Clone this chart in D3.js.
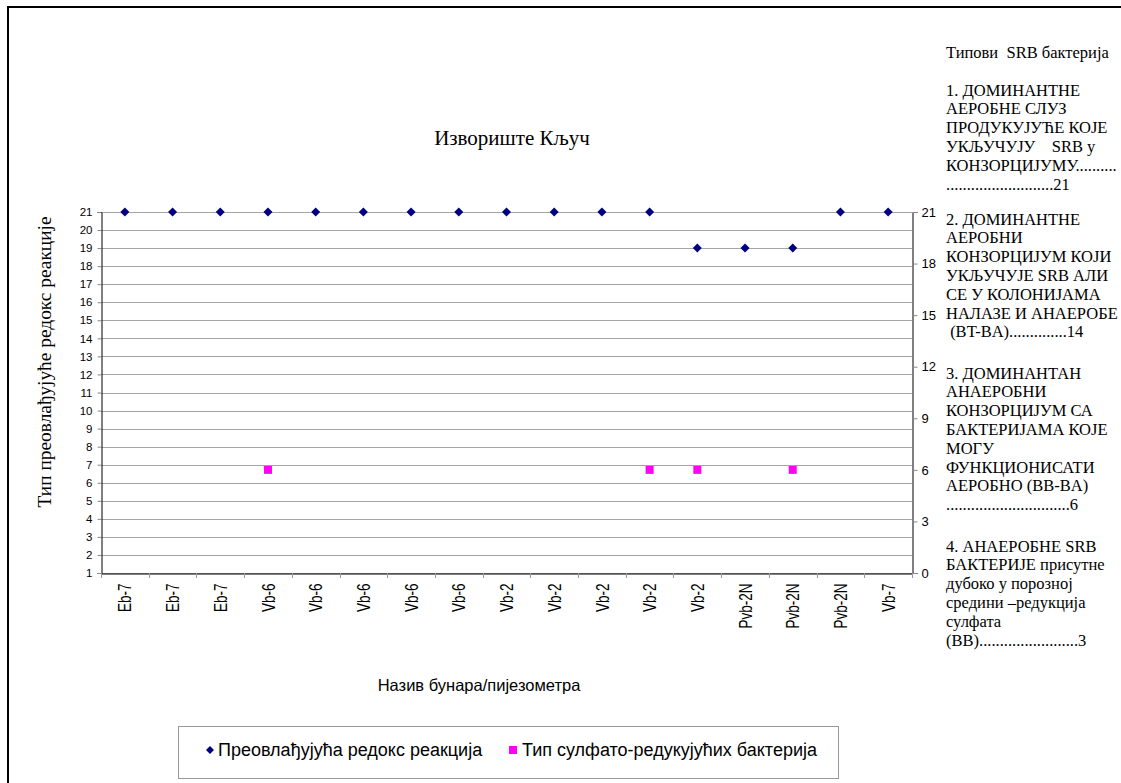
<!DOCTYPE html>
<html><head><meta charset="utf-8">
<script src="https://cdn.jsdelivr.net/npm/d3@7"></script>
<style>body{margin:0;background:#fff;overflow:hidden}svg{display:block}</style>
</head><body><svg id="c" width="1121" height="783"></svg>
<script>
const categories = ["Eb-7","Eb-7","Eb-7","Vb-6","Vb-6","Vb-6","Vb-6","Vb-6","Vb-2","Vb-2","Vb-2","Vb-2","Vb-2","Pvb-2N","Pvb-2N","Pvb-2N","Vb-7"];
const redoxValues = [21,21,21,21,21,21,21,21,21,21,21,21,19,19,19,21,21];
const srbValues = [null,null,null,6,null,null,null,null,null,null,null,6,6,null,6,null,null];
const leftTicks = [1,2,3,4,5,6,7,8,9,10,11,12,13,14,15,16,17,18,19,20,21];
const rightTicks = [0,3,6,9,12,15,18,21];
const titleText = "Извориште Кључ";
const yTitle = "Тип преовлађујуће редокс реакције";
const xTitle = "Назив бунара/пијезометра";
const seriesNames = ["Преовлађујућа редокс реакција","Тип сулфато-редукујућих бактерија"];
const sideText = [
  ["Типови  SRB бактерија"],
  ["1. ДОМИНАНТНЕ","АЕРОБНЕ СЛУЗ","ПРОДУКУЈУЋЕ КОЈЕ","УКЉУЧУЈУ    SRB у","КОНЗОРЦИЈУМУ..........","..........................21"],
  ["2. ДОМИНАНТНЕ","АЕРОБНИ","КОНЗОРЦИЈУМ КОЈИ","УКЉУЧУЈЕ SRB АЛИ","СЕ У КОЛОНИЈАМА","НАЛАЗЕ И АНАЕРОБЕ"," (BT-BA)..............14"],
  ["3. ДОМИНАНТАН","АНАЕРОБНИ","КОНЗОРЦИЈУМ СА","БАКТЕРИЈАМА КОЈЕ","МОГУ","ФУНКЦИОНИСАТИ","АЕРОБНО (BB-BA)","..............................6"],
  ["4. АНАЕРОБНЕ SRB","БАКТЕРИЈЕ присутне","дубоко у порозној","средини –редукција","сулфата","(BB)........................3"]
];
const sideStarts = [52, 90, 219, 373, 546];

const svg = d3.select("#c");
const L = 101, R = 912, T = 212, B = 573;
const x = d3.scaleBand().domain(d3.range(categories.length)).range([L, R]);
const yL = d3.scaleLinear().domain([1, 21]).range([B, T]);
const yR = d3.scaleLinear().domain([0, 21]).range([B, T]);
const sans = "'Liberation Sans', Arial, sans-serif";
const serif = "'Liberation Serif', 'Times New Roman', serif";

// outer border (top and left edges visible)
svg.append("path").attr("d", "M8,800V7H1140")
  .attr("fill", "none").attr("stroke", "#000").attr("stroke-width", 2);

// gridlines
svg.append("g").selectAll("line").data(leftTicks).join("line")
  .attr("x1", L).attr("x2", R).attr("y1", d => Math.round(yL(d)) + 0.5).attr("y2", d => Math.round(yL(d)) + 0.5)
  .attr("stroke", "#a6a6a6").attr("stroke-width", 1);

// left axis
const gl = svg.append("g").attr("transform", `translate(${L + 0.5},0)`)
  .call(d3.axisLeft(yL).tickValues(leftTicks).tickSize(4).tickPadding(5));
gl.select(".domain").attr("stroke", "#000");
gl.selectAll(".tick line").attr("stroke", "#888");
gl.selectAll(".tick text").attr("font-family", sans).attr("font-size", 11.5).attr("fill", "#000");

// right axis
const gr = svg.append("g").attr("transform", `translate(${R + 0.5},0)`)
  .call(d3.axisRight(yR).tickValues(rightTicks).tickSize(5).tickPadding(4));
gr.select(".domain").attr("stroke", "#000");
gr.selectAll(".tick line").attr("stroke", "#888");
gr.selectAll(".tick text").attr("font-family", sans).attr("font-size", 13).attr("fill", "#000");

// bottom axis
const gb = svg.append("g").attr("transform", `translate(0,${B + 0.5})`)
  .call(d3.axisBottom(x).tickSize(0).tickFormat(i => categories[i]));
gb.select(".domain").attr("stroke", "#000");
gb.selectAll(".tick text")
  .attr("font-family", sans).attr("font-size", 13.5).attr("fill", "#000")
  .attr("transform", "rotate(-90) scale(1,1.4)").attr("text-anchor", "end").attr("dy", "0.35em").attr("x", -10).attr("y", 0);
// boundary tick marks
svg.append("g").selectAll("line").data(d3.range(categories.length + 1)).join("line")
  .attr("x1", i => Math.round(L + i * x.step()) + 0.5).attr("x2", i => Math.round(L + i * x.step()) + 0.5)
  .attr("y1", B).attr("y2", B + 5).attr("stroke", "#999");

// series: redox diamonds on left axis
const diamond = d3.symbol().type(d3.symbolDiamond2).size(52);
svg.append("g").selectAll("path").data(redoxValues).join("path")
  .attr("d", diamond)
  .attr("transform", (d, i) => `translate(${x(i) + x.bandwidth() / 2},${yL(d)})`)
  .attr("fill", "#000080");
// SRB squares on right axis
svg.append("g").selectAll("rect").data(srbValues.map((v, i) => ({v, i})).filter(d => d.v != null)).join("rect")
  .attr("x", d => x(d.i) + x.bandwidth() / 2 - 4).attr("y", d => yR(d.v) - 4)
  .attr("width", 8).attr("height", 8).attr("fill", "#ff00ff");

// titles
svg.append("text").attr("x", 512).attr("y", 145).attr("text-anchor", "middle")
  .attr("font-family", serif).attr("font-size", 21).text(titleText);
svg.append("text").attr("transform", `translate(51,${(T + 512) / 2}) rotate(-90)`).attr("text-anchor", "middle")
  .attr("font-family", serif).attr("font-size", 19.4).text(yTitle);
svg.append("text").attr("x", 479).attr("y", 691).attr("text-anchor", "middle")
  .attr("font-family", sans).attr("font-size", 16.5).text(xTitle);

// legend
svg.append("rect").attr("x", 178.5).attr("y", 726.5).attr("width", 660).attr("height", 52)
  .attr("fill", "#fff").attr("stroke", "#999");
const lg = svg.append("g").attr("font-family", sans).attr("font-size", 18);
lg.append("path").attr("d", d3.symbol().type(d3.symbolDiamond2).size(40)).attr("transform", "translate(210,750)").attr("fill", "#000080");
lg.append("text").attr("x", 218).attr("y", 756).text(seriesNames[0]);
lg.append("rect").attr("x", 509).attr("y", 746).attr("width", 8).attr("height", 8).attr("fill", "#ff00ff");
lg.append("text").attr("x", 522).attr("y", 756).text(seriesNames[1]);

// side text
const st = svg.append("g").attr("font-family", serif).attr("font-size", 16.5).attr("fill", "#000");
sideText.forEach((block, bi) => {
  block.forEach((line, li) => {
    st.append("text").attr("x", 946).attr("y", sideStarts[bi] + li * 18.8 + 5.5)
      .attr("xml:space", "preserve").style("white-space", "pre").text(line);
  });
});
</script></body></html>
